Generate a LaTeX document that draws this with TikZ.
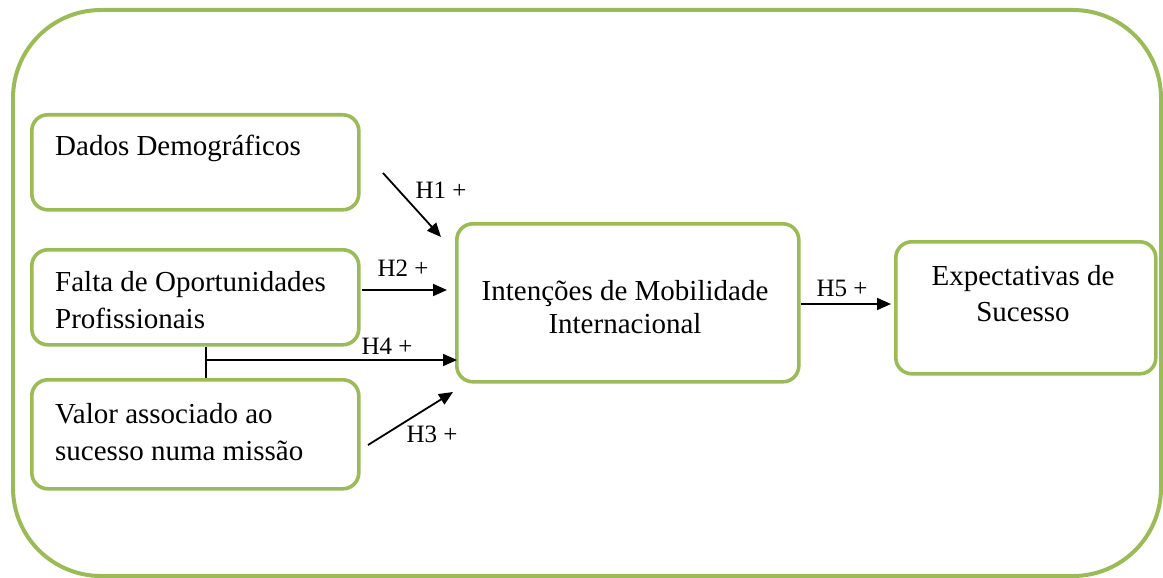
\documentclass[tikz,border=0pt]{standalone}
\usepackage{fontspec}
\setmainfont{Liberation Serif}
\usetikzlibrary{arrows.meta}
\definecolor{boxgreen}{HTML}{9BBB59}
\begin{document}
\begin{tikzpicture}[x=1pt,y=-1pt,
  outerbox/.style={draw=boxgreen,line width=4pt,rounded corners=88pt},
  gbox/.style={draw=boxgreen,line width=3.6pt,rounded corners=16pt,inner sep=0pt,anchor=north west},
  txt/.style={font=\fontsize{29}{37}\selectfont,inner sep=0pt},
  lbl/.style={font=\fontsize{25}{28}\selectfont,inner sep=0pt},
  arr/.style={line width=1.8pt,-{Triangle[length=14pt,width=12pt]}},
  plain/.style={line width=1.8pt}
]
\useasboundingbox (0,0) rectangle (1163,578);
\draw[outerbox] (13,10) rectangle (1161,576);

% boxes
\node[gbox,minimum width=327pt,minimum height=95pt] (dados) at (30,113) {};
\node[gbox,minimum width=327pt,minimum height=95pt] (falta) at (30,248) {};
\node[gbox,minimum width=327pt,minimum height=109pt] (valor) at (30,378) {};
\node[gbox,minimum width=342pt,minimum height=158pt] (intent) at (455,222) {};
\node[gbox,minimum width=260pt,minimum height=132pt] (expect) at (894,240) {};

% texts
\node[txt,anchor=base west] (tdados) at (55,155) {Dados Demográficos};
\node[txt,anchor=west,align=left] (tfalta) at (55,300) {Falta de Oportunidades\\Profissionais};
\node[txt,anchor=west,align=left] (tvalor) at (55,432) {Valor associado ao\\sucesso numa missão};
\node[txt,anchor=center,align=center,font=\fontsize{29}{33}\selectfont] (tintent) at (625,307) {Intenções de Mobilidade\\Internacional};
\node[txt,anchor=center,align=center,font=\fontsize{29}{36}\selectfont] (texpect) at (1023,294) {Expectativas de\\Sucesso};

% connector endpoints
\coordinate (h1s) at (383,173);
\coordinate (h1e) at (441,237);
\coordinate (h2s) at (362,290);
\coordinate (h2e) at (447,290);
\coordinate (h4s) at (206,360);
\coordinate (h4e) at (457,360);
\coordinate (h3s) at (368,445);
\coordinate (h3e) at (453,392);
\coordinate (h5e) at (891,304);

\draw[arr] (h1s) -- (h1e);
\draw[arr] (h2s) -- (h2e);
\draw[arr] (h4s) -- (h4e);
\draw[arr] (h3s) -- (h3e);
\draw[arr] (intent.east |- h5e) -- (h5e);
\draw[plain] (falta.south -| h4s) -- (valor.north -| h4s);

% labels
\node[lbl,anchor=center] (l1) at (441,190) {H1 +};
\node[lbl,anchor=center] (l2) at (403,268) {H2 +};
\node[lbl,anchor=center] (l4) at (387,346) {H4 +};
\node[lbl,anchor=center] (l3) at (432,434) {H3 +};
\node[lbl,anchor=center] (l5) at (842,288) {H5 +};
\end{tikzpicture}
\end{document}
